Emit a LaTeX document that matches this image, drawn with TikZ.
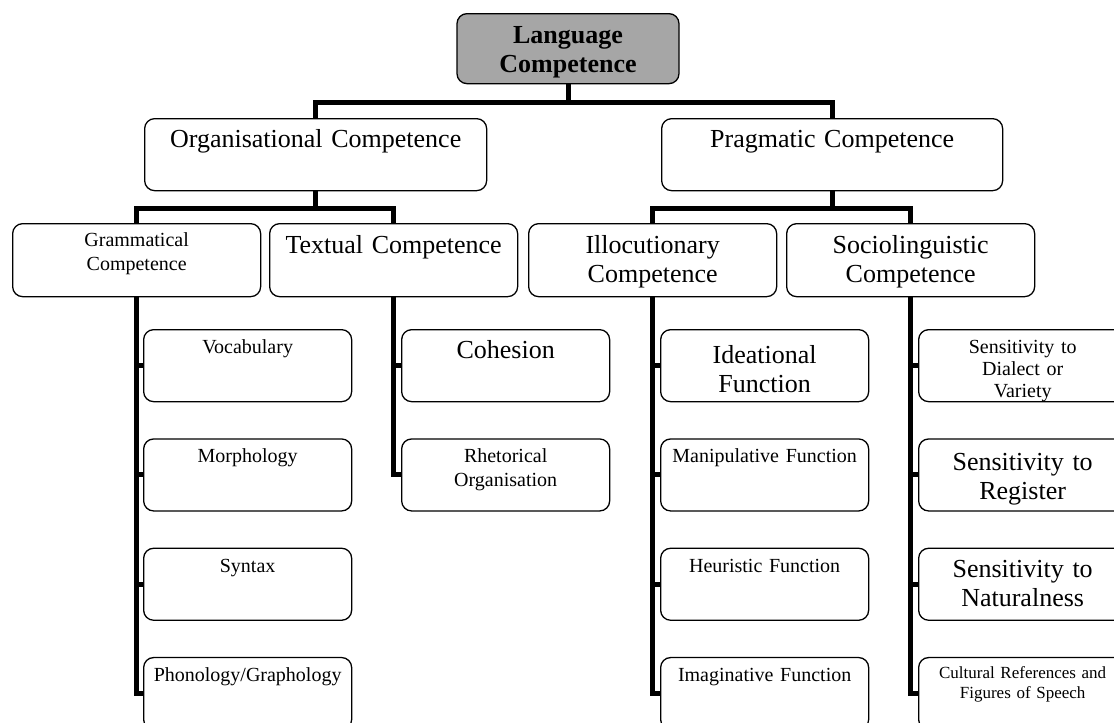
\documentclass[tikz,border=0pt]{standalone}
\usepackage{fontspec}
\setmainfont{Liberation Serif}
\usetikzlibrary{positioning}

\tikzset{
    box/.style={draw, line width=1.3pt, rounded corners=10pt, align=center, inner xsep=2pt, inner ysep=0pt},
    headtext/.style={font=\fontsize{26}{29}\selectfont\bfseries},
    bigtext/.style={font=\fontsize{26}{29}\selectfont},
    midtext/.style={font=\fontsize{20}{24}\selectfont},
    smalltext/.style={font=\fontsize{17}{20}\selectfont},
    upper/.style={box, bigtext, text height=29pt, text depth=43pt},
    middle/.style={box, bigtext, text width=244pt, text height=30pt, text depth=43pt},
    leaf/.style={box, midtext, text width=204pt, text height=24pt, text depth=48pt},
    conn/.style={line width=5pt}
}

\begin{document}
\begin{tikzpicture}[x=1pt, y=-1pt]
    \useasboundingbox (0,0) rectangle (1114,723);
    \clip (0,0) rectangle (1114,723);

    \node[box, headtext, fill=black!35, text width=218pt, text height=30pt, text depth=40pt, anchor=north] (lang) at (568,13) {Language\\Competence};

    \node[upper, text width=338pt, anchor=north west] (org) at (144,118) {Organisational Competence};
    \node[upper, text width=337pt, anchor=north west] (prag) at (661,118) {Pragmatic Competence};

    \node[middle, midtext, text height=23pt, text depth=50pt, anchor=north west] (gram) at (12,223) {Grammatical\\Competence};
    \node[middle, anchor=north west] (textual) at (269,223) {Textual Competence};
    \node[middle, anchor=north west] (illoc) at (528,223) {Illocutionary\\Competence};
    \node[middle, anchor=north west] (socio) at (786,223) {Sociolinguistic\\Competence};

    \node[leaf, anchor=north west] (vocab) at (143,329) {Vocabulary};
    \node[leaf, below=36pt of vocab] (morph) {Morphology};
    \node[leaf, below=36pt of morph] (syntax) {Syntax};
    \node[leaf, below=36pt of syntax] (phono) {Phonology/Graphology};

    \node[leaf, bigtext, text height=29pt, text depth=43pt, anchor=north west] (cohes) at (401,329) {Cohesion};
    \node[leaf, below=36pt of cohes] (rhet) {Rhetorical\\Organisation};

    \node[leaf, bigtext, text height=34pt, text depth=38pt, anchor=north west] (idea) at (660,329) {Ideational\\Function};
    \node[leaf, below=36pt of idea] (manip) {Manipulative Function};
    \node[leaf, below=36pt of manip] (heur) {Heuristic Function};
    \node[leaf, below=36pt of heur] (imag) {Imaginative Function};

    \node[leaf, font=\fontsize{20}{22}\selectfont, anchor=north west] (dial) at (918,329) {Sensitivity to\\Dialect or\\Variety};
    \node[leaf, bigtext, text height=32pt, text depth=40pt, below=36pt of dial] (regis) {Sensitivity to\\Register};
    \node[leaf, bigtext, text height=29pt, text depth=43pt, below=36pt of regis] (natur) {Sensitivity to\\Naturalness};
    \node[leaf, smalltext, text height=21pt, text depth=51pt, below=36pt of natur] (cult) {Cultural References and\\Figures of Speech};

    \draw[conn] (lang.south) -- ++(0,18) -| (org.north);
    \draw[conn] (lang.south) -- ++(0,18) -| (prag.north);
    \draw[conn] (org.south) -- ++(0,17) -| (gram.north);
    \draw[conn] (org.south) -- ++(0,17) -| (textual.north);
    \draw[conn] (prag.south) -- ++(0,17) -| (illoc.north);
    \draw[conn] (prag.south) -- ++(0,17) -| (socio.north);

    \foreach \leafname in {vocab, morph, syntax, phono}
        \draw[conn] (gram.south) |- (\leafname.west);
    \foreach \leafname in {cohes, rhet}
        \draw[conn] (textual.south) |- (\leafname.west);
    \foreach \leafname in {idea, manip, heur, imag}
        \draw[conn] (illoc.south) |- (\leafname.west);
    \foreach \leafname in {dial, regis, natur, cult}
        \draw[conn] (socio.south) |- (\leafname.west);
\end{tikzpicture}
\end{document}
